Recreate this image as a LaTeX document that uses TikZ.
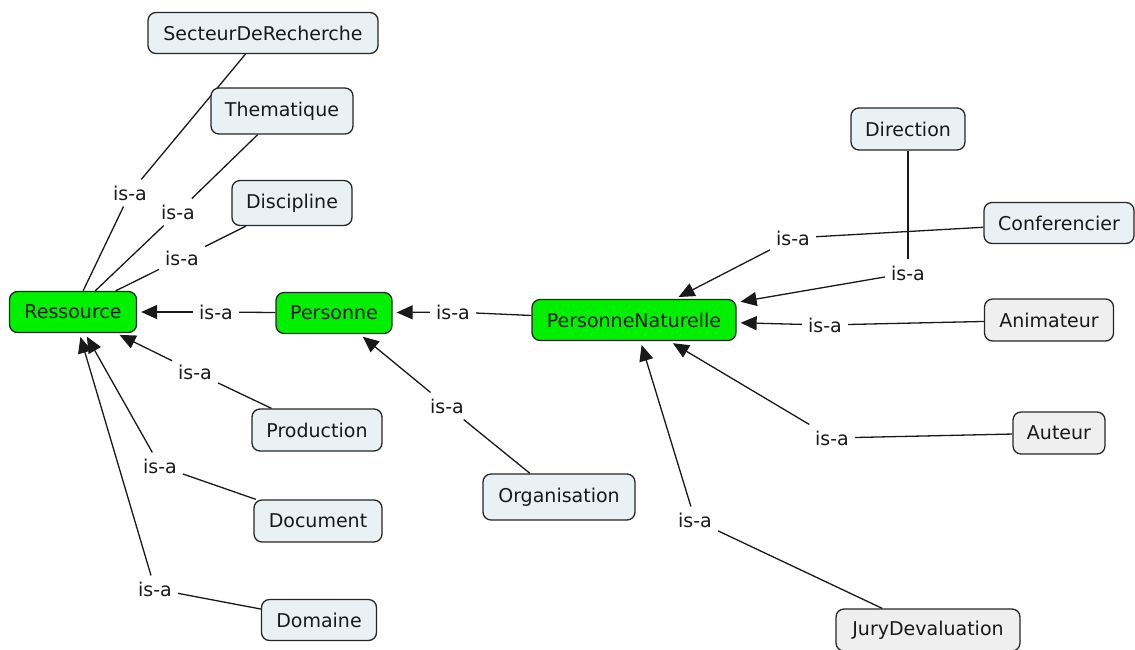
\documentclass[tikz,border=0pt]{standalone}
\usepackage{fontspec}
\setmainfont{DejaVu Sans}
\usetikzlibrary{arrows.meta,backgrounds}
\definecolor{boxblue}{RGB}{234,241,244}
\definecolor{boxgray}{RGB}{239,239,239}
\definecolor{boxgreen}{RGB}{0,240,0}
\begin{document}
\begin{tikzpicture}[x=1pt,y=-1pt,
  concept/.style={draw=black!85, line width=1.3pt, rounded corners=8pt, fill=boxblue,
    minimum height=41pt, inner sep=0pt, text=black!90, font=\fontsize{19}{21}\selectfont},
  grayc/.style={concept, fill=boxgray},
  greenc/.style={concept, fill=boxgreen},
  lab/.style={inner sep=6pt, text=black!90, font=\fontsize{19}{21}\selectfont},
  link/.style={line width=1.3pt, black!90},
  arr/.style={line width=1.3pt, black!90, -{Triangle[length=16pt,width=14pt]}, shorten >=4pt}]
\useasboundingbox (0,0) rectangle (1135,649);
% concepts
\node[concept, minimum width=230pt] (sect) at (263,33) {SecteurDeRecherche};
\node[concept, minimum width=142pt, minimum height=46pt] (them) at (282,111) {Thematique};
\node[concept, minimum width=120pt, minimum height=45pt] (disc) at (292,203) {Discipline};
\node[greenc, minimum width=127pt] (ress) at (73,312) {Ressource};
\node[greenc, minimum width=116pt] (pers) at (334,313) {Personne};
\node[greenc, minimum width=204pt] (pn) at (634,320) {PersonneNaturelle};
\node[concept, minimum width=114pt, minimum height=42pt] (dir) at (908,129) {Direction};
\node[concept, minimum width=150pt] (conf) at (1059,223) {Conferencier};
\node[grayc, minimum width=129pt, minimum height=42pt] (anim) at (1049,320) {Animateur};
\node[grayc, minimum width=92pt, minimum height=42pt] (aut) at (1059,433) {Auteur};
\node[grayc, minimum width=184pt, minimum height=42pt] (jury) at (928,630) {JuryDevaluation};
\node[concept, minimum width=130pt, minimum height=42pt] (prod) at (317,430) {Production};
\node[concept, minimum width=128pt, minimum height=42pt] (doc) at (318,521) {Document};
\node[concept, minimum width=115pt] (dom) at (319,620) {Domaine};
\node[concept, minimum width=152pt, minimum height=46pt] (org) at (559,497) {Organisation};
% labels
\node[lab] (l1) at (130,193) {is-a};
\node[lab] (l2) at (178,212) {is-a};
\node[lab] (l3) at (182,258) {is-a};
\node[lab] (l4) at (216,312) {is-a};
\node[lab] (l5) at (195,372) {is-a};
\node[lab] (l6) at (160,466) {is-a};
\node[lab] (l7) at (155,589) {is-a};
\node[lab] (l8) at (453,312) {is-a};
\node[lab] (l9) at (447,406) {is-a};
\node[lab] (l10) at (793,238) {is-a};
\node[lab] (l11) at (908,273) {is-a};
\node[lab] (l12) at (825,325) {is-a};
\node[lab] (l13) at (832,438) {is-a};
\node[lab] (l14) at (695,520) {is-a};
% connectors
\begin{scope}[on background layer]
\draw[link] (sect) -- (l1); \draw[link] (l1) -- (ress);
\draw[link] (them) -- (l2); \draw[link] (l2) -- (ress);
\draw[link] (disc) -- (l3); \draw[link] (l3) -- (ress);
\draw[link] (pers) -- (l4); \draw[arr] (l4) -- (ress);
\draw[link] (prod) -- (l5); \draw[arr] (l5) -- (ress);
\draw[link] (doc) -- (l6); \draw[arr] (l6) -- (ress);
\draw[link] (dom) -- (l7); \draw[arr] (l7) -- (ress);
\draw[link] (pn) -- (l8); \draw[arr] (l8) -- (pers);
\draw[link] (org) -- (l9); \draw[arr] (l9) -- (pers);
\draw[link] (conf) -- (l10); \draw[arr] (l10) -- (pn);
\draw[link] (dir) -- (l11); \draw[arr] (l11) -- (pn);
\draw[link] (anim) -- (l12); \draw[arr] (l12) -- (pn);
\draw[link] (aut) -- (l13); \draw[arr] (l13) -- (pn);
\draw[link] (jury) -- (l14); \draw[arr] (l14) -- (pn);
\end{scope}
\end{tikzpicture}
\end{document}
